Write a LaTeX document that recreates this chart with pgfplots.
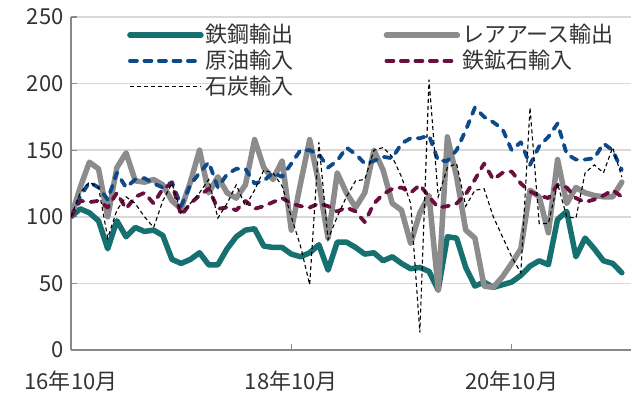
\documentclass[border=0pt]{standalone}
\usepackage{fontspec}
\setmainfont{Noto Sans CJK JP}
\usepackage{pgfplots}
\pgfplotsset{compat=1.18}
\usepackage{pgfplotstable}
\definecolor{cteal}{HTML}{167070}
\definecolor{cgray}{HTML}{8C8C8C}
\definecolor{cblue}{HTML}{0E4A8A}
\definecolor{cpurple}{HTML}{6A0F3E}
\definecolor{cgrid}{HTML}{D9D9D9}
\definecolor{caxis}{HTML}{898989}
\pgfplotstableread{
i teal gray blue purple coal
0 100 100 100 100 100
1 106 122 115 112 118
2 103 141 126 111 126
3 97 136 122 112 122
4 76 100 113 107 84
5 97 137 133 118 105
6 85 148 122 106 115
7 92 127 128 115 110
8 89 126 129 118 100
9 90 128 125 110 92
10 86 124 122 121 112
11 68 112 126 125 125
12 65 106 108 101 103
13 68 126 124 110 110
14 73 150 133 116 118
15 64 118 141 121 128
16 64 130 122 106 99
17 76 118 132 107 110
18 85 114 136 105 124
19 90 124 136 112 108
20 91 158 125 106 120
21 78 137 127 108 135
22 77 128 133 111 133
23 77 142 130 114 123
24 72 90 140 110 100
25 70 125 150 108 78
26 73 158 150 107 49
27 79 125 147 110 156
28 60 84 137 108 83
29 81 133 142 104 100
30 81 118 152 107 115
31 77 107 147 104 127
32 72 118 140 96 128
33 73 150 142 110 150
34 67 135 145 117 152
35 70 110 144 121 145
36 65 105 155 122 130
37 61 80 159 118 110
38 62 103 159 124 13
39 59 116 161 115 203
40 45 45 142 107 115
41 85 160 142 108 137
42 84 130 150 110 140
43 62 90 165 117 108
44 48 84 182 128 120
45 51 48 175 140 121
46 47 47 171 128 100
47 49 55 166 133 85
48 51 65 150 134 70
49 56 76 156 125 58
50 63 120 139 119 182
51 67 115 153 116 95
52 64 88 160 114 95
53 98 143 170 124 125
54 104 110 147 122 100
55 70 122 143 114 99
56 84 118 143 111 133
57 76 116 144 113 139
58 67 115 155 116 133
59 65 115 150 120 152
60 58 126 135 115 130
}\data
\begin{document}
\fontsize{22bp}{26bp}\selectfont
\begin{tikzpicture}
\useasboundingbox (0,0) rectangle (640bp,395bp);
\begin{axis}[
  at={(71bp,45bp)}, anchor=south west,
  scale only axis, width=560bp, height=333bp,
  xmin=0, xmax=61, ymin=0, ymax=250,
  axis x line*=bottom, axis y line*=left,
  axis line style={caxis, line width=1.5bp, -},
  xtick={0,24,48}, xticklabels={16年10月,18年10月,20年10月},
  ytick={0,50,...,250},
  tick align=inside, major tick length=6bp,
  tick style={caxis, line width=1.2bp},
  ymajorgrids, grid style={cgrid, line width=1.5bp},
  /pgf/number format/assume math mode=true,
  tick label style={font=\fontsize{22bp}{26bp}\selectfont, text=black!80},
  xticklabel style={yshift=-13bp},
  legend columns=2,
  legend cell align=left,
  legend image code/.code={\draw[#1] (0bp,0bp) -- (71bp,0bp);},
  legend style={at={(0.1,0.985)}, anchor=north west, draw=none, fill=none,
    inner sep=0pt, row sep=0pt,
    font=\fontsize{22bp}{26bp}\selectfont, text=black!80,
    /tikz/every even column/.append style={column sep=88bp}},
]
\addplot[cteal, line width=5.5bp, line cap=round, line join=round] table[x=i,y=teal]{\data};
\addlegendentry{鉄鋼輸出}
\addplot[cgray, line width=5.5bp, line cap=round, line join=round] table[x=i,y=gray]{\data};
\addlegendentry{レアアース輸出}
\addplot[cblue, line width=3.8bp, line cap=round, line join=round, dash pattern=on 7bp off 7.5bp] table[x=i,y=blue]{\data};
\addlegendentry{原油輸入}
\addplot[cpurple, line width=3.8bp, line cap=round, line join=round, dash pattern=on 7bp off 7.5bp] table[x=i,y=purple]{\data};
\addlegendentry{鉄鉱石輸入}
\addplot[black, line width=1.1bp, dash pattern=on 4bp off 3bp] table[x=i,y=coal]{\data};
\addlegendentry{石炭輸入}
\end{axis}
\end{tikzpicture}
\end{document}
